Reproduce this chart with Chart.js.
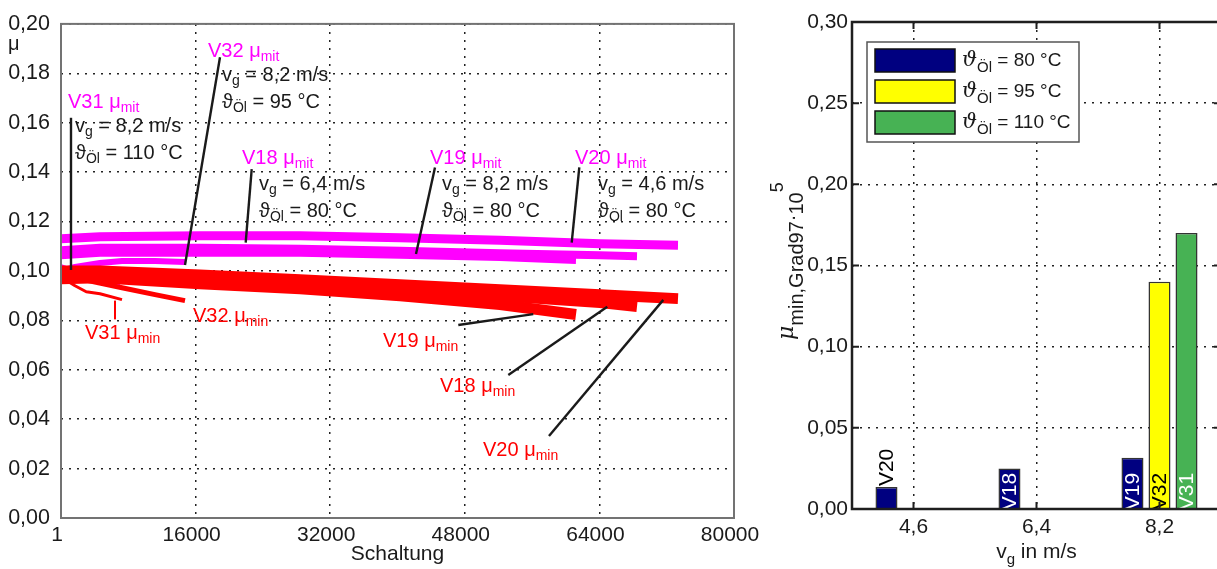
<!DOCTYPE html>
<html lang="de">
<head>
<meta charset="utf-8">
<title>Reibwertverlauf und Gradient</title>
<script src="https://cdn.jsdelivr.net/npm/chart.js@4.4.1/dist/chart.umd.min.js"></script>
<style>
  html, body { margin: 0; padding: 0; background: #fff; overflow: hidden; }
  body { position: relative; width: 1217px; height: 569px; }
  canvas { position: absolute; top: 0; }
  #verlauf { left: 0; }
  #gradient { left: 760px; }
</style>
</head>
<body>
<canvas id="verlauf" width="770" height="569"></canvas>
<canvas id="gradient" width="470" height="569"></canvas>
<script>
// ---- Reibwert ueber Schaltungen ----
const schaltTicks = [1, 16000, 32000, 48000, 64000, 80000];
const muTicks = [0, 0.02, 0.04, 0.06, 0.08, 0.10, 0.12, 0.14, 0.16, 0.18, 0.20];

// mittlerer Reibwert [Schaltung, mu]
const v20Mit = [[1, 0.1130], [4636, 0.1138], [16523, 0.1142], [28410, 0.1142], [40297, 0.1134], [52184, 0.1124], [64071, 0.1110], [73343, 0.1104]];
const v18Mit = [[1, 0.1084], [4636, 0.1094], [16523, 0.1094], [28410, 0.1090], [40297, 0.1082], [52184, 0.1072], [64071, 0.1064], [68470, 0.106]];
const v19Mit = [[1, 0.1064], [4636, 0.1074], [16523, 0.1074], [28410, 0.1074], [40297, 0.1066], [52184, 0.1056], [61218, 0.1044]];
const v32Mit = [[1, 0.100], [1664, 0.1016], [4636, 0.1032], [7251, 0.104], [11174, 0.104], [14740, 0.1036]];
const v31Mit = [[1, 0.102], [2259, 0.0992], [4636, 0.0964], [7013, 0.0944]];

// minimaler Reibwert
const v20Min = [[1, 0.100], [4636, 0.100], [16523, 0.0984], [28410, 0.0964], [40297, 0.0944], [52184, 0.0924], [64071, 0.0904], [73343, 0.0888]];
const v18Min = [[1, 0.0984], [4636, 0.0988], [16523, 0.0968], [28410, 0.0948], [40297, 0.0924], [52184, 0.090], [64071, 0.0872], [68470, 0.0856]];
const v19Min = [[1, 0.0968], [4636, 0.0972], [16523, 0.0948], [28410, 0.0928], [40297, 0.090], [52184, 0.0864], [61218, 0.0824]];
const v32Min = [[1, 0.0984], [1664, 0.0972], [7251, 0.0932], [11174, 0.0904], [14740, 0.088]];
const v31Min = [[1, 0.0976], [1664, 0.094], [3000, 0.0916], [4636, 0.0908], [7251, 0.0884]];

// ---- Gradient des minimalen Reibwerts ----
const speedLabels = ['4,6', '6,4', '8,2'];
const gradTicks = [0, 0.05, 0.10, 0.15, 0.20, 0.25, 0.30];
const oilTemps = ['80', '95', '110'];
const grad80 = [0.0135, 0.025, 0.0315];
const grad95 = [null, null, 0.14];
const grad110 = [null, null, 0.17];
const runs80 = ['V20', 'V18', 'V19'];
const runs95 = [null, null, 'V32'];
const runs110 = [null, null, 'V31'];

const SANS = "'Liberation Sans', Arial, 'DejaVu Sans', sans-serif";
const SERIF = "'DejaVu Serif', 'Liberation Serif', serif";
const INK = '#1a1a1a';
const MAGENTA = '#ff00ff';
const RED = '#ff0000';
const sans = (px, style) => (style ? style + ' ' : '') + px + 'px ' + SANS;
const txt = (text, size, dy, font) => ({ text, font: font || sans(size), dy: dy || 0 });
const comma = v => v.toFixed(2).replace('.', ',');

// Text mit Tief-/Hochstellung
function rich(ctx, parts, x, y, color) {
  ctx.fillStyle = color;
  ctx.textAlign = 'left';
  ctx.textBaseline = 'alphabetic';
  let cx = x;
  for (const p of parts) {
    ctx.font = p.font;
    ctx.fillText(p.text, cx, y + p.dy);
    cx += ctx.measureText(p.text).width;
  }
  return cx - x;
}
function richWidth(ctx, parts) {
  let w = 0;
  for (const p of parts) { ctx.font = p.font; w += ctx.measureText(p.text).width; }
  return w;
}

// Beschriftungen im Verlauf (Datenkoordinaten)
const mitNotes = [
  { run: 'V31', speed: '8,2', oil: '110', label: [832, 0.166], info: [1664, 0.1564], leader: [[1189, 0.162], [1189, 0.1004]] },
  { run: 'V32', speed: '8,2', oil: '95', label: [17474, 0.1864], info: [19138, 0.1768], leader: [[18900, 0.1865], [14740, 0.1024]] },
  { run: 'V18', speed: '6,4', oil: '80', label: [21516, 0.1432], info: [23536, 0.1328], leader: [[22670, 0.1412], [21955, 0.1115]] },
  { run: 'V19', speed: '8,2', oil: '80', label: [43863, 0.1432], info: [45290, 0.1328], leader: [[44457, 0.1419], [42199, 0.1069]] },
  { run: 'V20', speed: '4,6', oil: '80', label: [61099, 0.1432], info: [63833, 0.1328], leader: [[61611, 0.1419], [60707, 0.1115]] }
];
const minNotes = [
  { run: 'V31', label: [2853, 0.0724], leader: [[6419, 0.088], [6419, 0.0804]], color: RED },
  { run: 'V32', label: [15691, 0.0792] },
  { run: 'V19', label: [38276, 0.0692], leader: [[47227, 0.0781], [56142, 0.0825]] },
  { run: 'V18', label: [45052, 0.0512], leader: [[53170, 0.0579], [64938, 0.0855]] },
  { run: 'V20', label: [50163, 0.0252], leader: [[58008, 0.0332], [71595, 0.0883]] }
];

function band(points, color, width, order) {
  return {
    data: points.map(p => ({ x: p[0], y: p[1] })),
    borderColor: color,
    borderWidth: width,
    pointRadius: 0,
    borderCapStyle: 'butt',
    borderJoinStyle: 'round',
    fill: false,
    order: order
  };
}

const verlaufFrame = {
  id: 'verlaufFrame',
  afterDatasetsDraw(chart) {
    const { ctx, chartArea: a } = chart;
    ctx.save();
    ctx.strokeStyle = '#737373';
    ctx.lineWidth = 2;
    ctx.strokeRect(a.left, a.top, a.right - a.left, a.bottom - a.top);
    ctx.restore();
  }
};

const verlaufNotes = {
  id: 'verlaufNotes',
  afterDraw(chart) {
    const { ctx, scales: { x, y } } = chart;
    const at = p => [x.getPixelForValue(p[0]), y.getPixelForValue(p[1])];
    ctx.save();
    ctx.lineCap = 'butt';
    [...mitNotes, ...minNotes].forEach(n => {
      if (!n.leader) return;
      const a = at(n.leader[0]), b = at(n.leader[1]);
      ctx.strokeStyle = n.color || INK;
      ctx.lineWidth = n.color ? 2 : 2.4;
      ctx.beginPath();
      ctx.moveTo(a[0], a[1]);
      ctx.lineTo(b[0], b[1]);
      ctx.stroke();
    });
    mitNotes.forEach(n => {
      const l = at(n.label), i = at(n.info);
      rich(ctx, [txt(n.run + ' μ', 20), txt('mit', 14, 4)], l[0], l[1], MAGENTA);
      rich(ctx, [txt('v', 20), txt('g', 14, 4), txt(' = ' + n.speed + ' m/s', 20)], i[0], i[1], INK);
      rich(ctx, [txt('ϑ', 20), txt('Öl', 14, 4), txt(' = ' + n.oil + ' °C', 20)], i[0], i[1] + 27, INK);
    });
    minNotes.forEach(n => {
      const l = at(n.label);
      rich(ctx, [txt(n.run + ' μ', 20), txt('min', 14, 4)], l[0], l[1], RED);
    });
    // Achsenbezeichnung mu
    rich(ctx, [txt('μ', 20)], 8, 50, INK);
    ctx.restore();
  }
};

new Chart(document.getElementById('verlauf'), {
  type: 'line',
  data: {
    datasets: [
      band(v20Min, RED, 11, 1), band(v18Min, RED, 11, 1), band(v19Min, RED, 11, 1),
      band(v32Min, RED, 5, 1), band(v31Min, RED, 3, 1),
      band(v20Mit, MAGENTA, 9, 2), band(v18Mit, MAGENTA, 8, 2), band(v19Mit, MAGENTA, 8, 2),
      band(v32Mit, MAGENTA, 6, 2), band(v31Mit, MAGENTA, 4, 2)
    ]
  },
  options: {
    responsive: false,
    animation: false,
    layout: { padding: { top: 18, right: 36, left: 0, bottom: 0 } },
    plugins: { legend: { display: false }, tooltip: { enabled: false } },
    scales: {
      x: {
        type: 'linear', min: 1, max: 80000,
        afterBuildTicks: s => { s.ticks = schaltTicks.map(v => ({ value: v })); },
        afterFit: s => { s.height = 51; },
        grid: { color: '#222', lineWidth: 1.5, drawTicks: false },
        border: { display: false, dash: [2, 6] },
        ticks: { color: INK, font: { family: SANS, size: 21 }, padding: 5, labelOffset: -4, maxRotation: 0, callback: v => String(v) },
        title: { display: true, text: 'Schaltung', color: INK, font: { family: SANS, size: 21 }, padding: { top: 0, bottom: 2 } }
      },
      y: {
        min: 0, max: 0.2,
        afterBuildTicks: s => { s.ticks = muTicks.map(v => ({ value: v })); },
        afterFit: s => { s.width = 61; },
        grid: { color: '#222', lineWidth: 1.5, drawTicks: false },
        border: { display: false, dash: [2, 6] },
        ticks: { color: INK, font: { family: SANS, size: 21.5 }, padding: 11, callback: v => comma(v) }
      }
    }
  },
  plugins: [verlaufFrame, verlaufNotes]
});

// ---- Balkendiagramm ----
const barFills = ['#000080', '#ffff00', '#47b254'];
const barText = ['#ffffff', '#000000', '#ffffff'];
const barRuns = [runs80, runs95, runs110];

const gradientDeco = {
  id: 'gradientDeco',
  afterDatasetsDraw(chart) {
    const { ctx, chartArea: a } = chart;
    // Stichbezeichnung in den Balken
    ctx.save();
    ctx.beginPath();
    ctx.rect(a.left, a.top, a.right - a.left, a.bottom - a.top);
    ctx.clip();
    ctx.font = sans(21);
    chart.data.datasets.forEach((ds, i) => {
      chart.getDatasetMeta(i).data.forEach((bar, j) => {
        const name = barRuns[i][j];
        if (!name || ds.data[j] == null) return;
        const { x, y, base } = bar.getProps(['x', 'y', 'base'], true);
        const w = ctx.measureText(name).width;
        const inside = w + 2 <= base - y;
        ctx.save();
        ctx.translate(x, inside ? base + 2 : y - 1);
        ctx.rotate(-Math.PI / 2);
        ctx.fillStyle = inside ? barText[i] : '#000';
        ctx.textAlign = 'left';
        ctx.textBaseline = 'middle';
        ctx.fillText(name, 0, 1);
        ctx.restore();
      });
    });
    ctx.restore();

    // Rahmen mit innenliegenden Teilstrichen
    ctx.save();
    ctx.strokeStyle = '#1f1f1f';
    ctx.lineWidth = 2;
    const xs = chart.scales.x, ys = chart.scales.y;
    ctx.beginPath();
    speedLabels.forEach((_, k) => {
      const px = xs.getPixelForValue(k);
      ctx.moveTo(px, a.top); ctx.lineTo(px, a.top + 7);
      ctx.moveTo(px, a.bottom); ctx.lineTo(px, a.bottom - 7);
    });
    gradTicks.forEach(v => {
      const py = ys.getPixelForValue(v);
      ctx.moveTo(a.left, py); ctx.lineTo(a.left + 7, py);
      ctx.moveTo(a.right, py); ctx.lineTo(a.right - 7, py);
    });
    ctx.stroke();
    ctx.lineWidth = 2.5;
    ctx.strokeRect(a.left, a.top, a.right - a.left, a.bottom - a.top);
    ctx.restore();
  },
  afterDraw(chart) {
    const { ctx, chartArea: a } = chart;
    ctx.save();
    // Legende
    const lx = a.left + 15, ly = a.top + 20;
    ctx.fillStyle = '#fff';
    ctx.fillRect(lx, ly, 212, 100);
    ctx.strokeStyle = '#555';
    ctx.lineWidth = 1.5;
    ctx.strokeRect(lx, ly, 212, 100);
    oilTemps.forEach((t, i) => {
      const sy = ly + 7 + i * 31;
      ctx.fillStyle = barFills[i];
      ctx.fillRect(lx + 8, sy, 80, 23);
      ctx.strokeStyle = '#111';
      ctx.lineWidth = 1.5;
      ctx.strokeRect(lx + 8, sy, 80, 23);
      rich(ctx, [
        txt('ϑ', 21, 0, 'italic 21px ' + SERIF),
        txt('Öl', 15, 6),
        txt(' = ' + t + ' °C', 19)
      ], lx + 95, sy + 17, INK);
    });

    // Achsentitel x
    const xParts = [txt('v', 21), txt('g', 15, 6), txt(' in m/s', 21)];
    const xw = richWidth(ctx, xParts);
    rich(ctx, xParts, (a.left + a.right) / 2 - xw / 2, 558, INK);

    // Achsentitel y (gedreht)
    ctx.translate(43, 340);
    ctx.rotate(-Math.PI / 2);
    rich(ctx, [
      txt('μ', 22, -10, 'italic 22px ' + SERIF),
      txt('min,Grad97', 20),
      txt('·', 20, -4),
      txt('10', 20),
      txt('5', 18, -20)
    ], 0, 0, INK);
    ctx.restore();
  }
};

new Chart(document.getElementById('gradient'), {
  type: 'bar',
  data: {
    labels: speedLabels,
    datasets: [
      { data: grad80, backgroundColor: barFills[0] },
      { data: grad95, backgroundColor: barFills[1] },
      { data: grad110, backgroundColor: barFills[2] }
    ]
  },
  options: {
    responsive: false,
    animation: false,
    layout: { padding: { top: 22, right: 9, left: 0, bottom: 0 } },
    plugins: { legend: { display: false }, tooltip: { enabled: false } },
    datasets: { bar: { categoryPercentage: 0.659, barPercentage: 0.815, borderWidth: 1.5, borderColor: '#333' } },
    scales: {
      x: {
        afterFit: s => { s.height = 60; },
        grid: { offset: false, color: '#222', lineWidth: 1.5, drawTicks: false },
        border: { display: false, dash: [2, 6] },
        ticks: { color: INK, font: { family: SANS, size: 21 }, padding: 6, maxRotation: 0 }
      },
      y: {
        min: 0, max: 0.3,
        afterBuildTicks: s => { s.ticks = gradTicks.map(v => ({ value: v })); },
        afterFit: s => { s.width = 92; },
        grid: { color: '#222', lineWidth: 1.5, drawTicks: false },
        border: { display: false, dash: [2, 6] },
        ticks: { color: INK, font: { family: SANS, size: 21 }, padding: 4, callback: v => comma(v) }
      }
    }
  },
  plugins: [gradientDeco]
});
</script>
</body>
</html>
